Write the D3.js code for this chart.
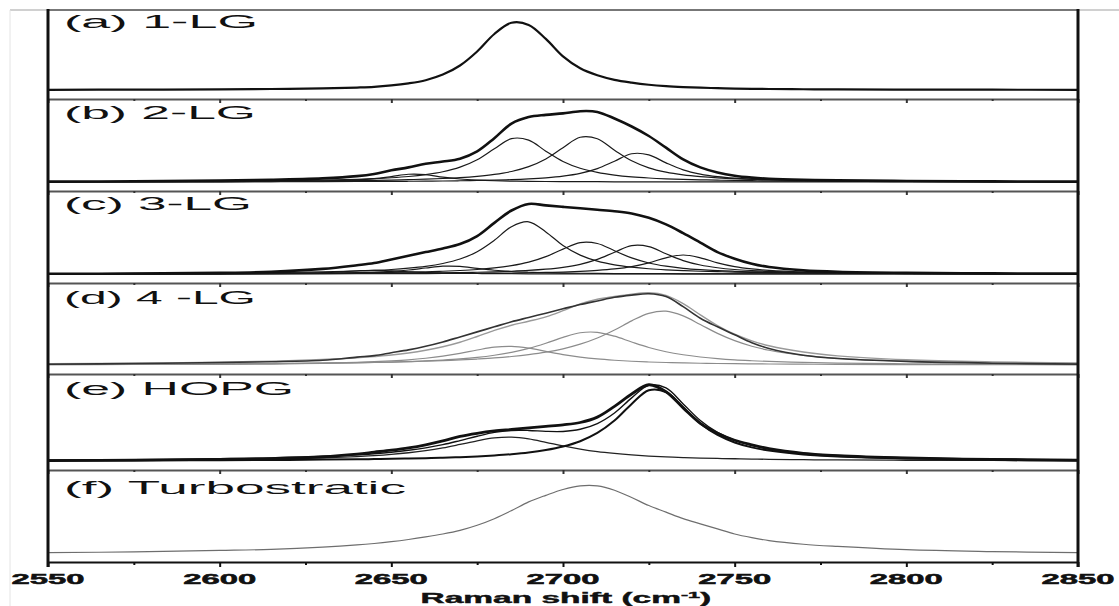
<!DOCTYPE html>
<html>
<head>
<meta charset="utf-8">
<title>Raman 2D band</title>
<style>
body { margin: 0; background: #fff; }
.panel-label {
  font-family: "Liberation Sans", Arial, sans-serif;
  font-size: 18px;
  fill: #111;
}
.tick-label {
  font-family: "Liberation Sans", Arial, sans-serif;
  font-size: 15px;
  font-weight: bold;
  fill: #111;
  stroke: #111;
  stroke-width: 0.5px;
}
.axis-title {
  font-family: "Liberation Sans", Arial, sans-serif;
  font-size: 14px;
  font-weight: bold;
  fill: #111;
  stroke: #111;
  stroke-width: 0.4px;
}
.sep path.domain { stroke: #555; stroke-width: 2px; }
.sep line { stroke: #333; stroke-width: 2px; }
.bottom path.domain { stroke: #111; stroke-width: 2px; }
.bottom line { stroke: #111; stroke-width: 2px; }
</style>
</head>
<body>
<svg width="1119" height="606"></svg>
<script src="https://cdn.jsdelivr.net/npm/d3@7"></script>
<script>
// Raman shift grid (cm-1), shared by every curve
var shift = [2550,2575,2600,2615,2630,2640,2645,2650,2655,2660,2665,2670,2675,2680,2685,2690,2695,2700,
             2705,2710,2715,2720,2725,2730,2735,2740,2745,2750,2755,2760,2770,2780,2800,2825,2850];

var panelLabels = ["(a) 1-LG", "(b) 2-LG", "(c) 3-LG", "(d) 4 -LG", "(e) HOPG", "(f) Turbostratic"];
var tickLabels = [2550, 2600, 2650, 2700, 2750, 2800, 2850];

// (a) 1-LG
var a_spectrum = [0.003,0.005,0.01,0.014,0.022,0.035,0.045,0.065,0.095,0.14,0.22,0.35,0.55,0.80,0.96,0.93,0.73,0.48,
                  0.31,0.21,0.145,0.105,0.075,0.055,0.042,0.033,0.026,0.021,0.017,0.014,0.011,0.009,0.006,0.004,0.003];
// (b) 2-LG
var b_spectrum = [0.005,0.01,0.02,0.03,0.05,0.08,0.11,0.16,0.20,0.25,0.28,0.32,0.42,0.60,0.80,0.89,0.92,0.94,
                  0.97,0.96,0.87,0.76,0.63,0.47,0.31,0.20,0.13,0.085,0.06,0.045,0.03,0.022,0.014,0.008,0.005];
var b_peak1 = [0.001,0.002,0.003,0.006,0.013,0.028,0.045,0.074,0.106,0.101,0.067,0.041,0.026,0.017,0.012,0.009,0.007,0.006,
               0.004,0.004,0.003,0.003,0.002,0.002,0.002,0.002,0.002,0.002,0.001,0.001,0.001,0.001,0.001,0.001,0.0];
var b_peak2 = [0.005,0.007,0.011,0.016,0.026,0.037,0.046,0.058,0.075,0.101,0.140,0.203,0.305,0.455,0.594,0.574,0.422,0.281,
               0.188,0.131,0.095,0.071,0.055,0.044,0.036,0.030,0.025,0.021,0.018,0.016,0.012,0.010,0.007,0.005,0.003];
var b_peak3 = [0.004,0.005,0.008,0.011,0.015,0.020,0.023,0.027,0.032,0.039,0.048,0.060,0.078,0.104,0.144,0.210,0.315,0.470,
               0.613,0.593,0.436,0.290,0.194,0.135,0.098,0.074,0.057,0.045,0.037,0.031,0.022,0.016,0.010,0.006,0.004];
var b_peak4 = [0.002,0.002,0.003,0.004,0.006,0.007,0.008,0.009,0.010,0.012,0.014,0.017,0.021,0.026,0.032,0.042,0.057,0.080,
               0.118,0.183,0.285,0.387,0.372,0.262,0.167,0.109,0.074,0.053,0.040,0.031,0.020,0.014,0.008,0.005,0.003];
// (c) 3-LG
var c_spectrum = [0.003,0.006,0.015,0.03,0.07,0.12,0.15,0.20,0.25,0.30,0.35,0.41,0.52,0.70,0.87,0.96,0.94,0.92,
                  0.90,0.88,0.86,0.83,0.77,0.68,0.56,0.43,0.30,0.21,0.14,0.095,0.05,0.03,0.015,0.008,0.005];
var c_peak0 = [0.001,0.001,0.003,0.007,0.020,0.043,0.050,0.043,0.030,0.020,0.013,0.009,0.007,0.005,0.004,0.003,0.003,0.002,
               0.002,0.002,0.002,0.002,0.001,0.001,0.001,0.001,0.001,0.001,0.001,0.001,0.001,0.0,0.0,0.0,0.0];
var c_peak1 = [0.001,0.002,0.003,0.006,0.010,0.018,0.025,0.037,0.055,0.082,0.107,0.104,0.076,0.051,0.034,0.024,0.017,0.013,
               0.010,0.008,0.006,0.005,0.005,0.004,0.003,0.003,0.003,0.002,0.002,0.002,0.001,0.001,0.001,0.001,0.0];
var c_peak2 = [0.005,0.008,0.013,0.018,0.029,0.041,0.050,0.062,0.080,0.105,0.144,0.205,0.305,0.461,0.648,0.715,0.576,0.391,
               0.259,0.177,0.126,0.094,0.072,0.057,0.046,0.038,0.032,0.027,0.023,0.020,0.015,0.012,0.008,0.006,0.004];
var c_peak3 = [0.003,0.004,0.006,0.009,0.012,0.016,0.019,0.022,0.026,0.031,0.038,0.048,0.062,0.083,0.114,0.162,0.238,0.341,
               0.430,0.418,0.319,0.220,0.151,0.107,0.078,0.059,0.046,0.037,0.030,0.025,0.018,0.014,0.008,0.005,0.004];
var c_peak4 = [0.002,0.003,0.004,0.005,0.007,0.008,0.009,0.011,0.012,0.014,0.017,0.020,0.024,0.030,0.038,0.049,0.066,0.092,
               0.133,0.200,0.298,0.389,0.376,0.277,0.184,0.123,0.086,0.062,0.047,0.036,0.024,0.016,0.009,0.005,0.003];
var c_peak5 = [0.001,0.001,0.002,0.003,0.003,0.004,0.005,0.005,0.006,0.006,0.007,0.009,0.010,0.012,0.014,0.017,0.021,0.027,
               0.036,0.049,0.069,0.101,0.153,0.222,0.260,0.222,0.153,0.101,0.069,0.049,0.027,0.017,0.009,0.005,0.003];
// (d) 4-LG
var d_spectrum = [0.01,0.02,0.035,0.045,0.065,0.11,0.13,0.17,0.21,0.26,0.32,0.39,0.46,0.53,0.60,0.66,0.72,0.78,
                  0.84,0.89,0.94,0.97,0.99,0.95,0.81,0.65,0.53,0.42,0.31,0.23,0.135,0.09,0.05,0.025,0.012];
var d_fit = [0.019,0.026,0.039,0.054,0.076,0.100,0.118,0.138,0.166,0.204,0.253,0.316,0.396,0.481,0.552,0.608,0.669,0.754,
             0.847,0.913,0.952,0.984,1.003,0.967,0.853,0.697,0.548,0.427,0.336,0.268,0.180,0.127,0.073,0.043,0.028];
var d_peak1 = [0.005,0.007,0.011,0.017,0.026,0.037,0.046,0.057,0.072,0.094,0.123,0.162,0.208,0.248,0.259,0.234,0.189,0.145,
               0.110,0.084,0.066,0.052,0.042,0.035,0.029,0.024,0.021,0.018,0.016,0.014,0.011,0.009,0.006,0.004,0.003];
var d_peak2 = [0.006,0.008,0.012,0.017,0.023,0.030,0.035,0.040,0.048,0.057,0.069,0.084,0.105,0.135,0.175,0.230,0.302,0.384,
               0.448,0.454,0.400,0.319,0.243,0.184,0.142,0.111,0.088,0.071,0.059,0.049,0.036,0.027,0.017,0.011,0.007];
var d_peak3 = [0.008,0.011,0.016,0.020,0.027,0.033,0.037,0.041,0.046,0.053,0.061,0.070,0.083,0.098,0.118,0.144,0.178,0.225,
               0.289,0.375,0.486,0.613,0.718,0.748,0.682,0.562,0.439,0.338,0.261,0.205,0.133,0.091,0.050,0.028,0.018];
// (e) HOPG
var e_spectrum = [0.005,0.012,0.022,0.032,0.055,0.09,0.115,0.14,0.17,0.21,0.26,0.32,0.36,0.39,0.41,0.43,0.45,0.47,
                  0.50,0.57,0.71,0.87,0.99,0.90,0.69,0.49,0.36,0.27,0.21,0.16,0.10,0.07,0.04,0.02,0.01];
var e_fit = [0.012,0.018,0.029,0.039,0.059,0.080,0.095,0.114,0.139,0.171,0.212,0.265,0.321,0.371,0.397,0.397,0.385,0.384,
             0.412,0.486,0.623,0.820,0.983,0.949,0.741,0.526,0.371,0.270,0.202,0.157,0.101,0.071,0.041,0.025,0.016];
var e_peak1 = [0.007,0.011,0.018,0.026,0.041,0.058,0.070,0.086,0.107,0.134,0.170,0.215,0.262,0.299,0.309,0.287,0.243,0.196,
               0.155,0.122,0.098,0.079,0.064,0.053,0.045,0.038,0.033,0.029,0.025,0.022,0.017,0.014,0.010,0.007,0.005];
var e_peak2 = [0.005,0.007,0.011,0.013,0.018,0.022,0.025,0.028,0.032,0.037,0.042,0.050,0.059,0.072,0.088,0.110,0.142,0.188,
               0.257,0.364,0.525,0.741,0.919,0.896,0.696,0.488,0.338,0.241,0.177,0.135,0.084,0.057,0.031,0.018,0.011];
// (f) Turbostratic
var f_spectrum = [0.005,0.015,0.035,0.05,0.08,0.11,0.13,0.155,0.185,0.22,0.26,0.31,0.38,0.47,0.58,0.70,0.79,0.87,
                  0.92,0.92,0.86,0.76,0.65,0.56,0.47,0.40,0.33,0.26,0.21,0.17,0.12,0.09,0.045,0.02,0.005];

var svg = d3.select("svg");
var left = 48, right = 1078;
var bounds = [10, 99, 191, 283, 374, 470, 562];   // panel edges, top to bottom
var labelBase = [28, 119, 210, 304, 395, 494];
var labelWidth = [194, 192, 188, 192, 230, 342];

var x = d3.scaleLinear().domain([2550, 2850]).range([left, right]);

var comp = function(d) { return {data: d, stroke: "#1a1a1a", width: 1.2}; };
var panels = [
  [{data: a_spectrum, stroke: "#111", width: 2.2}],
  [comp(b_peak1), comp(b_peak2), comp(b_peak3), comp(b_peak4), {data: b_spectrum, stroke: "#111", width: 2.6}],
  [comp(c_peak0), comp(c_peak1), comp(c_peak2), comp(c_peak3), comp(c_peak4), comp(c_peak5),
   {data: c_spectrum, stroke: "#111", width: 2.6}],
  [{data: d_peak1, stroke: "#8c8c8c", width: 1.2}, {data: d_peak2, stroke: "#8c8c8c", width: 1.2},
   {data: d_peak3, stroke: "#8c8c8c", width: 1.2}, {data: d_fit, stroke: "#9a9a9a", width: 1.4},
   {data: d_spectrum, stroke: "#333", width: 1.6}],
  [{data: e_peak1, stroke: "#222", width: 1.3}, {data: e_peak2, stroke: "#111", width: 2},
   {data: e_fit, stroke: "#111", width: 1.4}, {data: e_spectrum, stroke: "#111", width: 2.8}],
  [{data: f_spectrum, stroke: "#6e6e6e", width: 1.2}]
];

// frame lines of the scanned figure
svg.append("line").attr("x1", 10).attr("x2", 1119).attr("y1", 10).attr("y2", 10)
  .attr("stroke", "#d0d0d0").attr("stroke-width", 2);
svg.append("line").attr("x1", 10).attr("x2", 10).attr("y1", 10).attr("y2", 606)
  .attr("stroke", "#e4e4e4").attr("stroke-width", 1);
svg.append("line").attr("x1", left).attr("x2", right).attr("y1", 10).attr("y2", 10)
  .attr("stroke", "#777").attr("stroke-width", 2);

function stretchText(t, cx, y, w, anchor) {
  var nat = t.node().getBBox().width;
  var x0 = anchor === "middle" ? cx - w / 2 : cx;
  t.attr("text-anchor", "start").attr("x", 0).attr("y", 0)
   .attr("transform", "translate(" + x0 + "," + y + ") scale(" + (w / nat) + ",1)");
}

panels.forEach(function(lines, i) {
  var top = bounds[i], bottom = bounds[i + 1];
  var y = d3.scaleLinear().domain([0, 1]).range([bottom - 9, top + 10]);
  var line = d3.line()
    .x(function(d, j) { return x(shift[j]); })
    .y(function(d) { return y(d); })
    .curve(d3.curveCatmullRom.alpha(0.5));
  var g = svg.append("g");
  lines.forEach(function(l) {
    g.append("path").datum(l.data)
      .attr("d", line)
      .attr("fill", "none")
      .attr("stroke", l.stroke)
      .attr("stroke-width", l.width)
      .attr("stroke-linejoin", "round");
  });
  var t = svg.append("text").attr("class", "panel-label").text(panelLabels[i]);
  stretchText(t, 64, labelBase[i], labelWidth[i], "start");
});

// separators between panels with inward ticks
bounds.slice(1, 6).forEach(function(b) {
  svg.append("g").attr("class", "sep")
    .attr("transform", "translate(0," + b + ")")
    .call(d3.axisBottom(x).tickValues(d3.range(2550, 2851, 50)).tickSize(4).tickSizeOuter(0).tickFormat(""));
  svg.append("g").attr("class", "sep")
    .attr("transform", "translate(0," + b + ")")
    .call(d3.axisBottom(x).tickValues(d3.range(2575, 2850, 50)).tickSize(2).tickSizeOuter(0).tickFormat(""))
    .select(".domain").remove();
});

// bottom axis
svg.append("g").attr("class", "bottom")
  .attr("transform", "translate(0,562)")
  .call(d3.axisBottom(x).tickValues(tickLabels).tickSize(5).tickSizeOuter(0).tickFormat(""));
svg.append("g").attr("class", "bottom")
  .attr("transform", "translate(0,562)")
  .call(d3.axisBottom(x).tickValues(d3.range(2575, 2850, 50)).tickSize(3).tickSizeOuter(0).tickFormat(""))
  .select(".domain").remove();

tickLabels.forEach(function(v) {
  var t = svg.append("text").attr("class", "tick-label").text(v);
  stretchText(t, x(v), 584, 73, "middle");
});

var title = svg.append("text").attr("class", "axis-title");
title.append("tspan").text("Raman shift (cm");
title.append("tspan").attr("font-size", "9px").attr("dy", -5).text("-1");
title.append("tspan").attr("dy", 5).text(")");
stretchText(title, x(2700) + 3, 603, 291, "middle");

// heavy vertical frame sides
[left, right].forEach(function(px) {
  svg.append("line").attr("x1", px).attr("x2", px).attr("y1", 9).attr("y2", 567)
    .attr("stroke", "#111").attr("stroke-width", 3);
});
</script>
</body>
</html>
